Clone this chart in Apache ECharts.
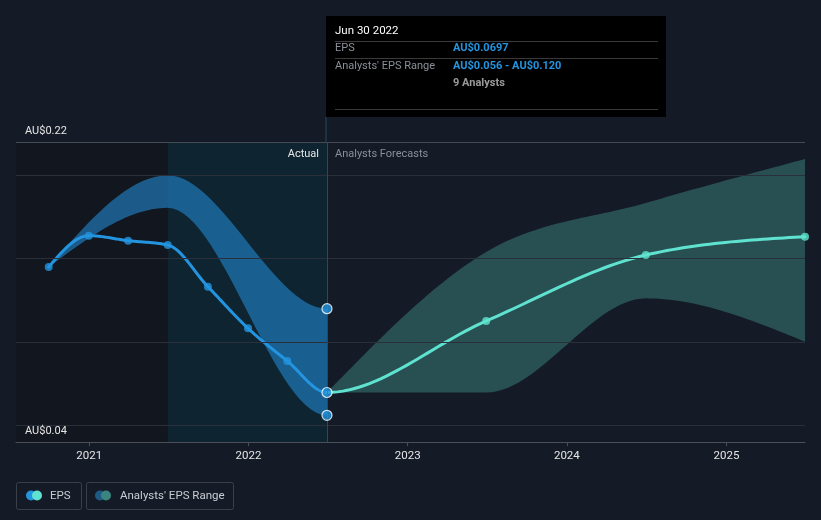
<!DOCTYPE html>
<html><head><meta charset="utf-8">
<script src="https://cdn.jsdelivr.net/npm/echarts@6/dist/echarts.min.js"></script>
<style>html,body{margin:0;padding:0;background:#151b26;}#c{width:821px;height:520px;}</style>
</head><body><div id="c"></div>
<script>
// ---- data ----
const epsDates = ['2020-09-30','2020-12-31','2021-03-31','2021-06-30','2021-09-30','2021-12-31','2022-03-31','2022-06-30'];
const epsValues = [0.145,0.1638,0.1608,0.1582,0.1332,0.1082,0.0886,0.0697];
const forecastDates = ['2022-06-30','2023-06-30','2024-06-30','2025-06-30'];
const forecastValues = [0.0697,0.1126,0.1522,0.1632];
const pastRangeDates = ['2020-09-30','2021-06-30','2022-06-30'];
const pastRangeLow = [0.145,0.1805,0.056];
const pastRangeHigh = [0.145,0.200,0.120];
const forecastRangeLow = [0.0697,0.0697,0.1262,0.1002];
const forecastRangeHigh = [0.0697,0.154,0.1834,0.2098];
const gridValues = [0.05,0.10,0.15,0.20];
const yLabelValues = [0.04,0.22];
const yearTicks = ['2021-01-01','2022-01-01','2023-01-01','2024-01-01','2025-01-01'];
const xMin = '2020-07-17', xMax = '2025-06-30';
const actualStart = '2021-06-30', forecastStart = '2022-06-30';

const ts = d => new Date(d + 'T00:00:00Z').getTime();
const pair = (ds, vs) => ds.map((d,i)=>[ts(d), vs[i]]);
const triple = (ds, lo, hi) => ds.map((d,i)=>[ts(d), lo[i], hi[i]]);

const BLUE = '#2394df', TEAL = '#5fe3d0';
const font = 'Roboto, "Noto Sans", sans-serif';

// monotone-x cubic curve (d3 style) through pixel points; prev/next are optional neighbours used for slopes only
function sgn(v){ return v < 0 ? -1 : 1; }
function monotoneCurve(p, prev, next) {
  const all = (prev ? [prev] : []).concat(p, next ? [next] : []);
  const off = prev ? 1 : 0, N = all.length;
  const slope = [];
  for (let i = 0; i < N; i++) {
    if (i > 0 && i < N-1) {
      const h0 = all[i][0]-all[i-1][0], h1 = all[i+1][0]-all[i][0];
      const s0 = (all[i][1]-all[i-1][1])/h0, s1 = (all[i+1][1]-all[i][1])/h1;
      const q = (s0*h1 + s1*h0)/(h0+h1);
      slope[i] = (sgn(s0)+sgn(s1)) * Math.min(Math.abs(s0), Math.abs(s1), 0.5*Math.abs(q)) || 0;
    }
  }
  if (N > 2) {
    slope[0] = (3*(all[1][1]-all[0][1])/(all[1][0]-all[0][0]) - slope[1])/2;
    slope[N-1] = (3*(all[N-1][1]-all[N-2][1])/(all[N-1][0]-all[N-2][0]) - slope[N-2])/2;
  } else { const s = (all[1][1]-all[0][1])/(all[1][0]-all[0][0]); slope[0] = slope[1] = s; }
  const out = [];
  for (let k = 0; k < p.length-1; k++) {
    const i = k + off, a = all[i], b = all[i+1], dx = (b[0]-a[0])/3;
    const c1 = [a[0]+dx, a[1]+dx*slope[i]], c2 = [b[0]-dx, b[1]-dx*slope[i+1]];
    const steps = 30;
    for (let s = 0; s < steps; s++) {
      const t = s/steps, u = 1-t;
      out.push([u*u*u*a[0]+3*u*u*t*c1[0]+3*u*t*t*c2[0]+t*t*t*b[0],
                u*u*u*a[1]+3*u*u*t*c1[1]+3*u*t*t*c2[1]+t*t*t*b[1]]);
    }
  }
  out.push(p[p.length-1].slice());
  return out;
}
function bandRender(color, nextLo, nextHi) {
  return function(params, api) {
    if (params.dataIndexInside !== 0) return null;
    const n = params.dataInsideLength, up = [], lo = [];
    for (let i = 0; i < n; i++) {
      const x = api.value(0, i);
      lo.push(api.coord([x, api.value(1, i)]));
      up.push(api.coord([x, api.value(2, i)]));
    }
    const nl = nextLo ? api.coord(nextLo) : null, nh = nextHi ? api.coord(nextHi) : null;
    const pts = monotoneCurve(up, null, nh).concat(monotoneCurve(lo, null, nl).reverse());
    return {type:'polygon', shape:{points: pts}, style:{fill: color}, silent:true};
  };
}
// EPS line continues into the forecast line as one monotone curve, coloured per part
const lineData = pair(epsDates, epsValues).map(d=>[d[0], d[1], 0])
  .concat(pair(forecastDates, forecastValues).slice(1).map(d=>[d[0], d[1], 1]));
function lineRender(params, api) {
  if (params.dataIndexInside !== 0) return null;
  const n = params.dataInsideLength, pts = [], part = [];
  for (let i = 0; i < n; i++) { pts.push(api.coord([api.value(0,i), api.value(1,i)])); part.push(api.value(2,i)); }
  const k = part.indexOf(1); // first forecast point
  const a = pts.slice(0, k), b = pts.slice(k-1);
  return {type:'group', children:[
    {type:'polyline', shape:{points: monotoneCurve(a, null, pts[k])}, style:{stroke:BLUE, lineWidth:3, fill:null, lineJoin:'round', lineCap:'round'}},
    {type:'polyline', shape:{points: monotoneCurve(b, pts[k-2], null)}, style:{stroke:TEAL, lineWidth:3, fill:null, lineJoin:'round', lineCap:'round'}}
  ]};
}

const chart = echarts.init(document.getElementById('c'), null, {renderer:'canvas'});
chart.setOption({
  backgroundColor: '#151b26',
  animation: false,
  grid: {left:16, right:16, top:142, bottom:78},
  xAxis: {
    type:'value', min: ts(xMin), max: ts(xMax), scale:true, z:10,
    axisLine:{lineStyle:{color:'#4a4f58', width:1}},
    axisTick:{show:true, length:4, lineStyle:{color:'#4a4f58'}, customValues: yearTicks.map(ts)},
    axisLabel:{color:'#e6e6e6', fontSize:11.5, fontFamily:font, margin:8,
      customValues: yearTicks.map(ts), formatter: v => new Date(v).getUTCFullYear()+''},
    splitLine:{show:false}
  },
  yAxis: {
    type:'value', min:0.04, max:0.22, z:10,
    axisLine:{show:false}, axisTick:{show:false}, splitLine:{show:false},
    axisLabel:{inside:true, customValues: yLabelValues, color:'#e6e6e6', fontSize:11, fontFamily:font,
      verticalAlign:'bottom', margin:9, padding:[0,0,5,0],
      formatter: v => 'AU$' + v.toFixed(2)}
  },
  series: [
    { // background regions + gridlines
      type:'line', data:[], silent:true, z:0,
      markArea:{silent:true, data:[
        [{xAxis: ts(xMin), itemStyle:{color:'#12161e'}}, {xAxis: ts(actualStart)}],
        [{xAxis: ts(actualStart), itemStyle:{color:'#0e2431'}}, {xAxis: ts(forecastStart)}]
      ]},
      markLine:{silent:true, symbol:'none', label:{show:false},
        lineStyle:{color:'#2a2f39', width:1, type:'solid'},
        data: gridValues.map(v=>({yAxis:v})).concat([
          {yAxis:0.22, lineStyle:{color:'#454a53'}},
          {xAxis: ts(forecastStart), lineStyle:{color:'#1f4d62'}}
        ])
      }
    },
    { type:'custom', z:2, silent:true, data: triple(pastRangeDates, pastRangeLow, pastRangeHigh),
      encode:{x:0, y:[1,2]}, clip:true,
      renderItem: bandRender('rgba(35,140,215,0.58)', [ts(forecastDates[1]), forecastRangeLow[1]], [ts(forecastDates[1]), forecastRangeHigh[1]]) },
    { type:'custom', z:2, silent:true, data: triple(forecastDates, forecastRangeLow, forecastRangeHigh),
      encode:{x:0, y:[1,2]}, clip:true, renderItem: bandRender('rgba(94,224,208,0.27)', null, null) },
    { type:'custom', z:4, silent:true, data: lineData, encode:{x:0, y:1}, renderItem: lineRender, clip:false },
    { type:'scatter', name:'EPS', z:5, symbolSize:8, itemStyle:{color:BLUE},
      data: pair(epsDates, epsValues).slice(0, -1) },
    { type:'scatter', name:'Forecast', z:5, symbolSize:8, itemStyle:{color:TEAL},
      data: pair(forecastDates, forecastValues).slice(1) },
    { // highlighted points at the cursor date
      type:'scatter', z:6, symbolSize:10,
      itemStyle:{color:BLUE, borderColor:'#ffffff', borderWidth:1.2},
      data:[[ts(forecastStart), pastRangeHigh[2]],[ts(forecastStart), pastRangeLow[2]],
            [ts(forecastStart), epsValues[epsValues.length-1]]]
    }
  ],
  graphic: [
    {type:'line', z:100, shape:{x1:326, y1:117, x2:326, y2:142}, style:{stroke:'#1f4d62', lineWidth:1}, silent:true},
    {type:'text', z:100, x:319, y:154, style:{text:'Actual', fill:'#e6e6e6', font:'11px '+font, align:'right', verticalAlign:'middle'}},
    {type:'text', z:100, x:335, y:154, style:{text:'Analysts Forecasts', fill:'#8a8f98', font:'11px '+font, align:'left', verticalAlign:'middle'}},
    // tooltip box
    {type:'group', z:100, children:[
      {type:'rect', z:100, shape:{x:326, y:16, width:340, height:101}, style:{fill:'#000000'}},
      {type:'text', z:101, x:335, y:31, style:{text:'Jun 30 2022', fill:'#ffffff', font:'11.5px '+font, verticalAlign:'middle'}},
      {type:'line', z:101, shape:{x1:335, y1:41.5, x2:658, y2:41.5}, style:{stroke:'#3a3a3a', lineWidth:1}},
      {type:'text', z:101, x:335, y:48.5, style:{text:'EPS', fill:'#8a8f98', font:'11px '+font, verticalAlign:'middle'}},
      {type:'text', z:101, x:453, y:48.5, style:{text:'AU$0.0697', fill:BLUE, font:'bold 11px '+font, verticalAlign:'middle'}},
      {type:'line', z:101, shape:{x1:335, y1:58.5, x2:658, y2:58.5}, style:{stroke:'#3a3a3a', lineWidth:1}},
      {type:'text', z:101, x:335, y:66, style:{text:"Analysts' EPS Range", fill:'#8a8f98', font:'11px '+font, verticalAlign:'middle'}},
      {type:'text', z:101, x:453, y:66, style:{text:'AU$0.056 - AU$0.120', fill:BLUE, font:'bold 11px '+font, verticalAlign:'middle'}},
      {type:'text', z:101, x:453, y:83, style:{text:'9 Analysts', fill:'#9a9a9a', font:'bold 11px '+font, verticalAlign:'middle'}},
      {type:'line', z:101, shape:{x1:335, y1:109.5, x2:658, y2:109.5}, style:{stroke:'#3a3a3a', lineWidth:1}}
    ]},
    // legend
    {type:'group', z:100, children:[
      {type:'rect', z:100, shape:{x:16.5, y:482.5, width:65, height:27, r:2}, style:{fill:'transparent', stroke:'#3a3f4a', lineWidth:1}},
      {type:'circle', z:100, shape:{cx:31, cy:495.5, r:5}, style:{fill:BLUE}},
      {type:'circle', z:101, shape:{cx:37, cy:495.5, r:5}, style:{fill:TEAL}},
      {type:'text', z:100, x:50, y:496, style:{text:'EPS', fill:'#c9ccd2', font:'11.5px '+font, verticalAlign:'middle'}},
      {type:'rect', z:100, shape:{x:86.5, y:482.5, width:147, height:27, r:2}, style:{fill:'transparent', stroke:'#3a3f4a', lineWidth:1}},
      {type:'circle', z:100, shape:{cx:100, cy:495.5, r:5}, style:{fill:'#1f5a85'}},
      {type:'circle', z:101, shape:{cx:106, cy:495.5, r:5}, style:{fill:'#3b8580'}},
      {type:'text', z:100, x:120, y:496, style:{text:"Analysts' EPS Range", fill:'#c9ccd2', font:'11.5px '+font, verticalAlign:'middle'}}
    ]}
  ]
});
</script></body></html>
